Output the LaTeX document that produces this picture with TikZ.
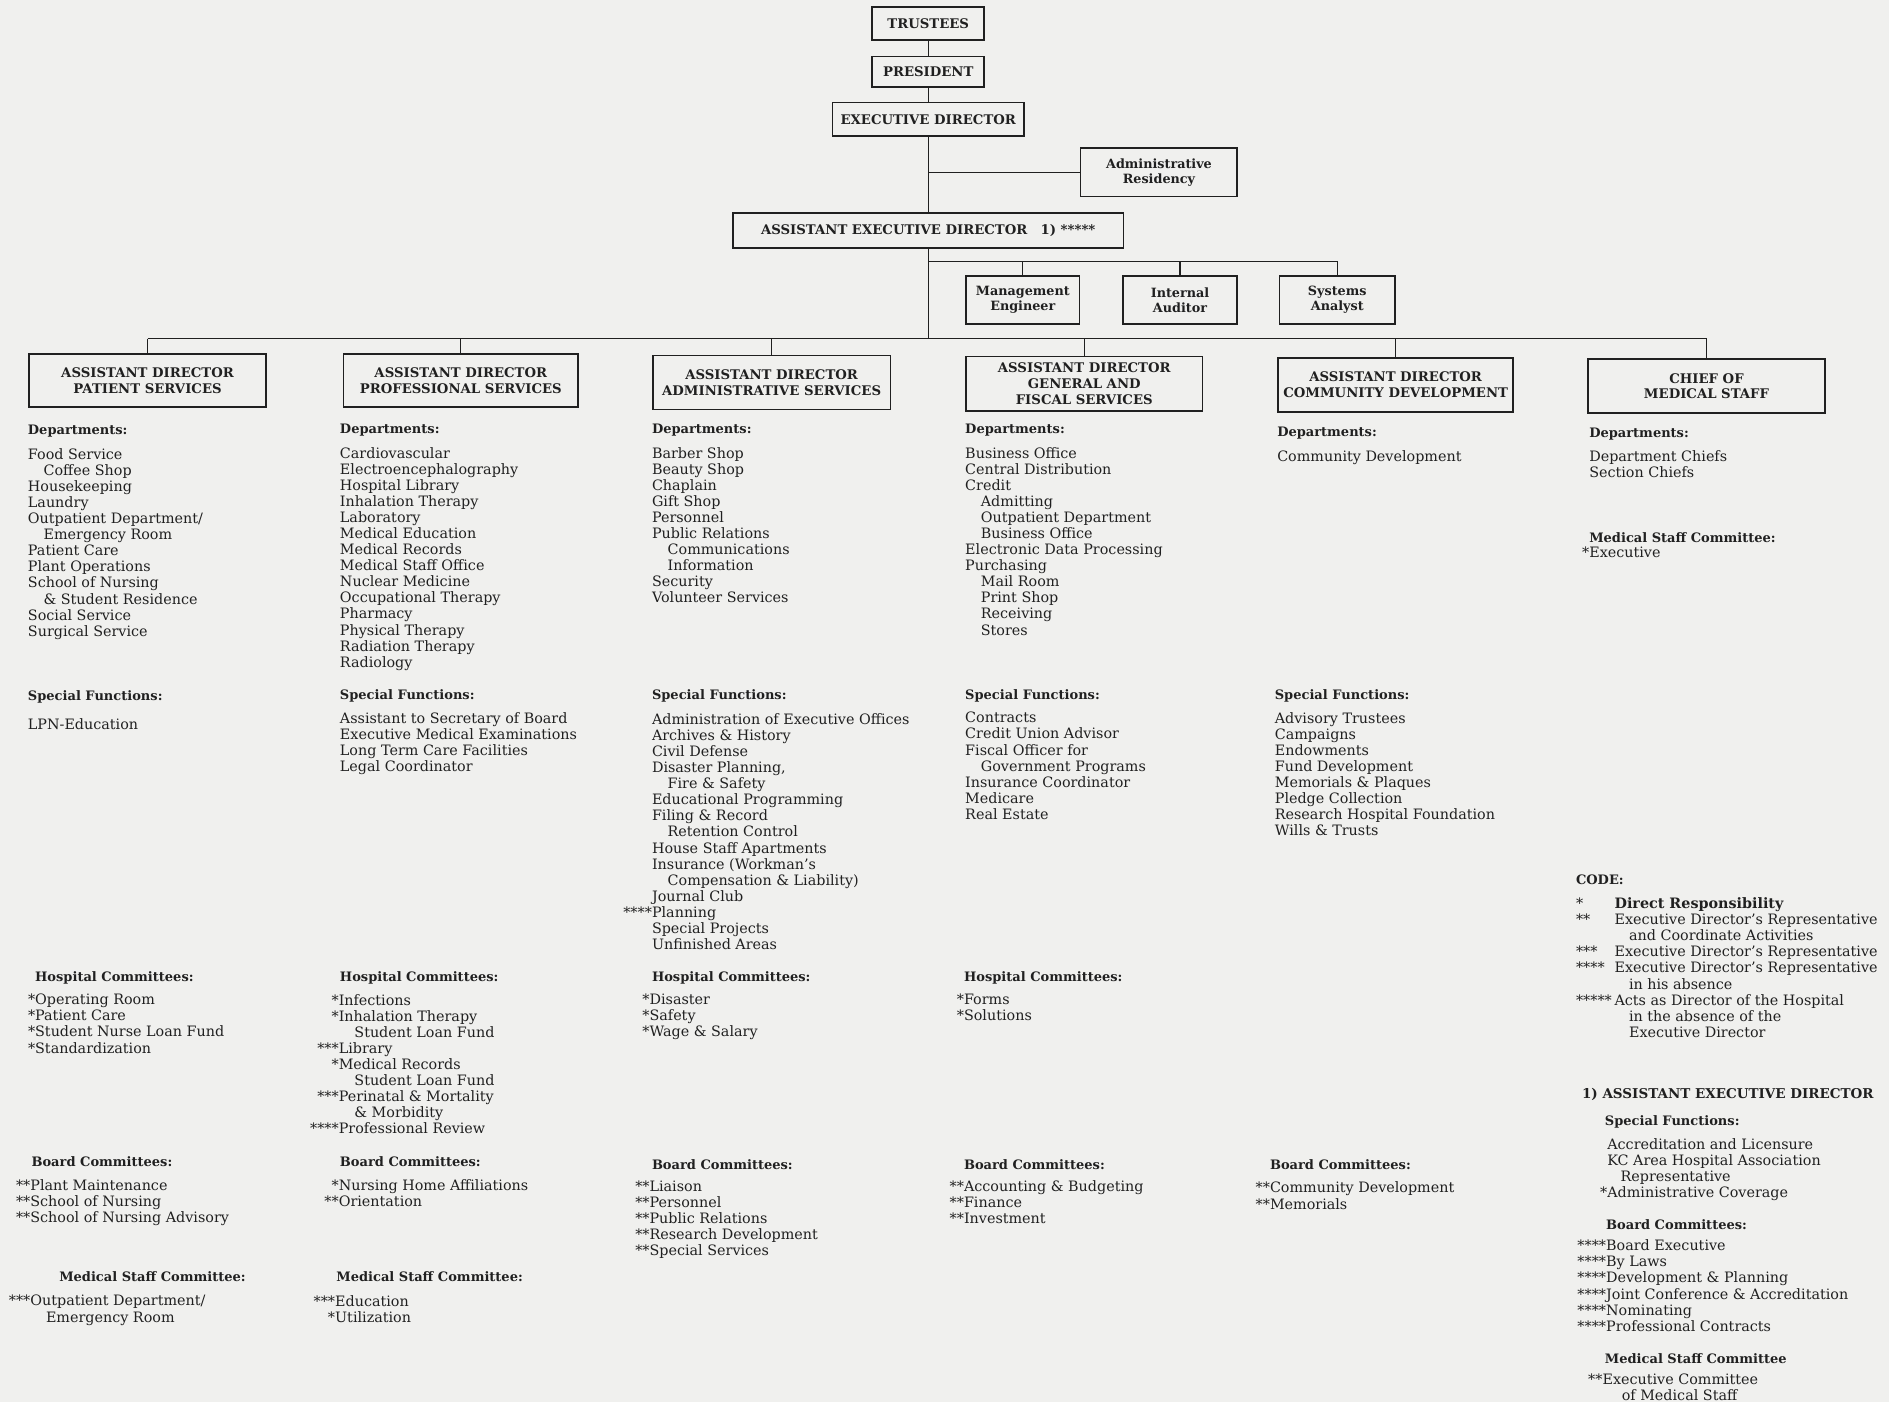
\documentclass[tikz,border=0pt]{standalone}
\usepackage{fontspec}
\setmainfont{DejaVu Serif}
\usetikzlibrary{positioning}
\definecolor{paper}{RGB}{240,240,238}
\definecolor{ink}{RGB}{32,32,32}
\newcommand{\ind}{\hspace*{13pt}}
\newcommand{\st}[1]{\llap{#1}}
\newcommand{\codekey}[1]{\makebox[32pt][l]{#1}}
\tikzset{
	unit/.style={draw=ink, line width=1.3pt, inner sep=0pt, align=center, text=ink, font=\fontsize{11}{13}\selectfont\bfseries},
	smallunit/.style={unit, font=\fontsize{10.6}{12.5}\selectfont\bfseries},
	head/.style={anchor=north west, inner sep=0pt, text=ink, font=\fontsize{10.8}{12}\selectfont\bfseries},
	entries/.style={anchor=north west, inner sep=0pt, align=left, text=ink, font=\fontsize{11.9}{13.35}\selectfont},
	link/.style={draw=ink, line width=1.1pt},
}

\begin{document}
\begin{tikzpicture}[x=1pt, y=-1pt]
		%%%%% START %%%%%
		
		\fill[paper] (0,0) rectangle (1568,1164);
		\useasboundingbox (0,0) rectangle (1568,1164);
		
		% top of the chart
		\node[unit, minimum width=93, minimum height=27] (trustees) at (770.5,19.5) {TRUSTEES};
		\node[unit, minimum width=93, minimum height=25] (president) at (770.5,59.5) {PRESIDENT};
		\node[unit, minimum width=159, minimum height=28] (execdir) at (770.5,99) {EXECUTIVE DIRECTOR};
		\node[smallunit, minimum width=130, minimum height=40] (admres) at (962,143) {Administrative\\Residency};
		\node[unit, minimum width=324, minimum height=29] (aed) at (770.5,191.5) {ASSISTANT EXECUTIVE DIRECTOR\quad 1) *****};
		
		\node[smallunit, minimum width=94, minimum height=40] (mgmt) at (849,249) {Management\\Engineer};
		\node[smallunit, minimum width=95, minimum height=40] (audit) at (979.5,249) {Internal\\Auditor};
		\node[smallunit, minimum width=96, minimum height=40] (sysan) at (1110,249) {Systems\\Analyst};
		
		% assistant directors
		\node[unit, minimum width=197, minimum height=44] (aps) at (122.5,316) {ASSISTANT DIRECTOR\\PATIENT SERVICES};
		\node[unit, minimum width=195, minimum height=44] (apr) at (382.5,316) {ASSISTANT DIRECTOR\\PROFESSIONAL SERVICES};
		\node[unit, minimum width=197, minimum height=45] (aad) at (640.5,317.5) {ASSISTANT DIRECTOR\\ADMINISTRATIVE SERVICES};
		\node[unit, minimum width=196, minimum height=45] (agf) at (900,318.5) {ASSISTANT DIRECTOR\\GENERAL AND\\FISCAL SERVICES};
		\node[unit, minimum width=195, minimum height=45] (acd) at (1158.5,319.5) {ASSISTANT DIRECTOR\\COMMUNITY DEVELOPMENT};
		\node[unit, minimum width=197, minimum height=45] (cms) at (1416.5,320.5) {CHIEF OF\\MEDICAL STAFF};
		
		% connectors
		\coordinate (staffbar) at (770.5,217);
		\coordinate (bar) at (770.5,281);
		\draw[link] (trustees) -- (president);
		\draw[link] (president) -- (execdir);
		\draw[link] (execdir) -- (aed);
		\draw[link] (admres.west -| execdir.south) -- (admres.west);
		\draw[link] (aed.south) -- (bar);
		\draw[link] (staffbar) -- (staffbar -| sysan.north);
		\foreach \n in {mgmt,audit,sysan}
			\draw[link] (staffbar -| \n.north) -- (\n.north);
		\draw[link] (bar -| aps.north) -- (bar -| cms.north);
		\foreach \n in {aps,apr,aad,agf,acd,cms}
			\draw[link] (bar -| \n.north) -- (\n.north);
		
		% patient services
		\node[head] (depps) at (23,353) {Departments:};
		\node[entries] (listps) at (23,372) {Food Service\\ \ind Coffee Shop\\Housekeeping\\Laundry\\Outpatient Department/\\ \ind Emergency Room\\Patient Care\\Plant Operations\\School of Nursing\\ \ind \& Student Residence\\Social Service\\Surgical Service};
		\node[head] (sfps) at (23,573) {Special Functions:};
		\node[entries] (funcps) at (23,596) {LPN-Education};
		\node[head] (hcps) at (29,806) {Hospital Committees:};
		\node[entries] (hlistps) at (29,825) {\st{*}Operating Room\\ \st{*}Patient Care\\ \st{*}Student Nurse Loan Fund\\ \st{*}Standardization};
		\node[head] (bcps) at (26,960) {Board Committees:};
		\node[entries] (blistps) at (25,979) {\st{**}Plant Maintenance\\ \st{**}School of Nursing\\ \st{**}School of Nursing Advisory};
		\node[head] (mcps) at (49,1055) {Medical Staff Committee:};
		\node[entries] (mlistps) at (25,1075) {\st{***}Outpatient Department/\\ \ind Emergency Room};
		
		% professional services
		\node[head] (deppr) at (282,352) {Departments:};
		\node[entries] (listpr) at (282,371) {Cardiovascular\\Electroencephalography\\Hospital Library\\Inhalation Therapy\\Laboratory\\Medical Education\\Medical Records\\Medical Staff Office\\Nuclear Medicine\\Occupational Therapy\\Pharmacy\\Physical Therapy\\Radiation Therapy\\Radiology};
		\node[head] (sfpr) at (282,572) {Special Functions:};
		\node[entries] (funcpr) at (282,591) {Assistant to Secretary of Board\\Executive Medical Examinations\\Long Term Care Facilities\\Legal Coordinator};
		\node[head] (hcpr) at (282,806) {Hospital Committees:};
		\node[entries] (hlistpr) at (281,825) {\st{*}Infections\\ \st{*}Inhalation Therapy\\ \ind Student Loan Fund\\ \st{***}Library\\ \st{*}Medical Records\\ \ind Student Loan Fund\\ \st{***}Perinatal \& Mortality\\ \ind \& Morbidity\\ \st{****}Professional Review};
		\node[head] (bcpr) at (282,960) {Board Committees:};
		\node[entries] (blistpr) at (281,979) {\st{*}Nursing Home Affiliations\\ \st{**}Orientation};
		\node[head] (mcpr) at (279,1055) {Medical Staff Committee:};
		\node[entries] (mlistpr) at (278,1075) {\st{***}Education\\ \st{*}Utilization};
		
		% administrative services
		\node[head] (depad) at (541,352) {Departments:};
		\node[entries] (listad) at (541,371) {Barber Shop\\Beauty Shop\\Chaplain\\Gift Shop\\Personnel\\Public Relations\\ \ind Communications\\ \ind Information\\Security\\Volunteer Services};
		\node[head] (sfad) at (541,572) {Special Functions:};
		\node[entries] (funcad) at (541,592) {Administration of Executive Offices\\Archives \& History\\Civil Defense\\Disaster Planning,\\ \ind Fire \& Safety\\Educational Programming\\Filing \& Record\\ \ind Retention Control\\House Staff Apartments\\Insurance (Workman's\\ \ind Compensation \& Liability)\\Journal Club\\ \st{****}Planning\\Special Projects\\Unfinished Areas};
		\node[head] (hcad) at (541,806) {Hospital Committees:};
		\node[entries] (hlistad) at (539,825) {\st{*}Disaster\\ \st{*}Safety\\ \st{*}Wage \& Salary};
		\node[head] (bcad) at (541,962) {Board Committees:};
		\node[entries] (blistad) at (539,980) {\st{**}Liaison\\ \st{**}Personnel\\ \st{**}Public Relations\\ \st{**}Research Development\\ \st{**}Special Services};
		
		% general and fiscal services
		\node[head] (depgf) at (801,352) {Departments:};
		\node[entries] (listgf) at (801,371) {Business Office\\Central Distribution\\Credit\\ \ind Admitting\\ \ind Outpatient Department\\ \ind Business Office\\Electronic Data Processing\\Purchasing\\ \ind Mail Room\\ \ind Print Shop\\ \ind Receiving\\ \ind Stores};
		\node[head] (sfgf) at (801,572) {Special Functions:};
		\node[entries] (funcgf) at (801,591) {Contracts\\Credit Union Advisor\\Fiscal Officer for\\ \ind Government Programs\\Insurance Coordinator\\Medicare\\Real Estate};
		\node[head] (hcgf) at (800,806) {Hospital Committees:};
		\node[entries] (hlistgf) at (800,825) {\st{*}Forms\\ \st{*}Solutions};
		\node[head] (bcgf) at (800,962) {Board Committees:};
		\node[entries] (blistgf) at (800,980) {\st{**}Accounting \& Budgeting\\ \st{**}Finance\\ \st{**}Investment};
		
		% community development
		\node[head] (depcd) at (1060,354) {Departments:};
		\node[entries] (listcd) at (1060,374) {Community Development};
		\node[head] (sfcd) at (1058,572) {Special Functions:};
		\node[entries] (funccd) at (1058,591) {Advisory Trustees\\Campaigns\\Endowments\\Fund Development\\Memorials \& Plaques\\Pledge Collection\\Research Hospital Foundation\\Wills \& Trusts};
		\node[head] (bccd) at (1054,962) {Board Committees:};
		\node[entries] (blistcd) at (1054,981) {\st{**}Community Development\\ \st{**}Memorials};
		
		% medical staff
		\node[head] (depms) at (1319,355) {Departments:};
		\node[entries] (listms) at (1319,374) {Department Chiefs\\Section Chiefs};
		\node[head] (mcms) at (1319,442) {Medical Staff Committee:};
		\node[entries] (mlistms) at (1319,454) {\st{*}Executive};
		
		% code
		\node[head] (codehead) at (1308,726) {CODE:};
		\node[entries] (code) at (1308,745) {\codekey{*}\textbf{Direct Responsibility}\\ \codekey{**}Executive Director's Representative\\ \hspace*{44pt}and Coordinate Activities\\ \codekey{***}Executive Director's Representative\\ \codekey{****}Executive Director's Representative\\ \hspace*{44pt}in his absence\\ \codekey{*****}Acts as Director of the Hospital\\ \hspace*{44pt}in the absence of the\\ \hspace*{44pt}Executive Director};
		
		% assistant executive director notes
		\node[head, font=\fontsize{11.2}{13}\selectfont\bfseries] (aednote) at (1313,903.5) {1) ASSISTANT EXECUTIVE DIRECTOR};
		\node[head] (sfaed) at (1332,926) {Special Functions:};
		\node[entries] (funcaed) at (1334,945) {Accreditation and Licensure\\KC Area Hospital Association\\ \hspace*{11pt}Representative\\ \st{*}Administrative Coverage};
		\node[head] (bcaed) at (1333,1012) {Board Committees:};
		\node[entries] (blistaed) at (1333,1029) {\st{****}Board Executive\\ \st{****}By Laws\\ \st{****}Development \& Planning\\ \st{****}Joint Conference \& Accreditation\\ \st{****}Nominating\\ \st{****}Professional Contracts};
		\node[head] (mcaed) at (1332,1123) {Medical Staff Committee};
		\node[entries] (mlistaed) at (1330,1140) {\st{**}Executive Committee\\ \hspace*{16pt}of Medical Staff};
		
		%%%%% END %%%%%
	\end{tikzpicture}
\end{document}
